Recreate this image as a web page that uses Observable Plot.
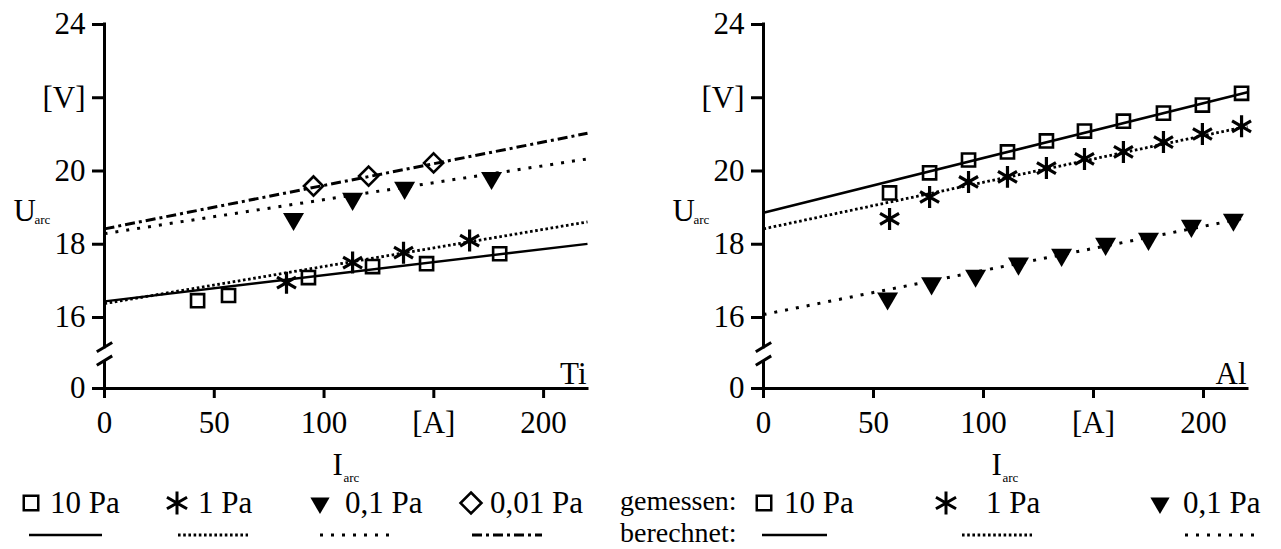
<!DOCTYPE html>
<html><head><meta charset="utf-8">
<script src="https://cdn.jsdelivr.net/npm/d3@7"></script>
<script src="https://cdn.jsdelivr.net/npm/@observablehq/plot@0.6"></script>
<style>
body{margin:0;background:#fff;}
#wrap{position:relative;width:1281px;height:549px;overflow:hidden;background:#fff;}
#wrap > svg{position:absolute;}
</style></head><body><div id="wrap"></div>
<script>
// ---------- axes ----------
const xTicks = [0, 50, 100, 150, 200];
const xTickLabels = ["0", "50", "100", "[A]", "200"];
const yTicks = [0, 16, 18, 20, 22, 24];
const yTickLabels = ["0", "16", "18", "20", "[V]", "24"];
const xDomain = [0, 220];
const yBreakAt = 15;                  // values below this are compressed (broken axis)
const yBreakFactor = 0.0626;          // compression of the 0..15 part
const yMax = 24;
const axisGap = [12.2, 15.19];        // where the y axis line is interrupted

// ---------- Ti (left) measured ----------
const tiSquareX = [42.4, 56.5, 92.9, 122.1, 146.7, 180.0];
const tiSquareY = [16.46, 16.60, 17.09, 17.39, 17.47, 17.74];
const tiStarX = [82.9, 113.0, 136.2, 166.3];
const tiStarY = [16.95, 17.50, 17.77, 18.10];
const tiTriX = [86.1, 113.0, 136.7, 176.3];
const tiTriY = [18.69, 19.24, 19.54, 19.81];
const tiDiaX = [95.2, 120.3, 149.9];
const tiDiaY = [19.59, 19.86, 20.22];
// ---------- Ti computed lines (end points) ----------
const lineX = [0, 220];
const tiLine10 = [16.44, 18.01];
const tiLine1 = [16.38, 18.61];
const tiLine01 = [18.29, 20.33];
const tiLine001 = [18.42, 21.03];

// ---------- Al (right) measured ----------
const alSquareX = [57.3, 75.5, 93.2, 110.9, 128.6, 145.9, 163.6, 181.8, 199.5, 217.3];
const alSquareY = [19.40, 19.95, 20.30, 20.52, 20.82, 21.09, 21.36, 21.58, 21.80, 22.12];
const alStarX = [57.3, 75.5, 93.2, 110.9, 128.6, 145.9, 163.6, 181.8, 199.5, 217.3];
const alStarY = [18.69, 19.29, 19.70, 19.84, 20.08, 20.33, 20.52, 20.79, 21.01, 21.22];
const alTriX = [56.4, 76.4, 96.4, 115.9, 135.5, 155.5, 175.0, 194.5, 213.6];
const alTriY = [16.52, 16.93, 17.14, 17.47, 17.71, 18.01, 18.15, 18.50, 18.67];
// ---------- Al computed lines ----------
const alLine10 = [18.86, 22.15];
const alLine1 = [18.42, 21.22];
const alLine01 = [16.08, 18.73];

const pressures = ["10 Pa", "1 Pa", "0,1 Pa", "0,01 Pa"];

// ---------- styles ----------
const markerStyle = {
  "10 Pa":   {symbol: "square", r: 7.4, fill: "none", stroke: "black", strokeWidth: 2.6},
  "1 Pa":    {symbol: "asterisk", r: 10.4, fill: "none", stroke: "black", strokeWidth: 3.2},
  "0,1 Pa":  {symbol: "triangle", r: 7.8, fill: "black", stroke: "none", rotate: 180},
  "0,01 Pa": {symbol: "diamond2", r: 8.6, fill: "none", stroke: "black", strokeWidth: 2.6}
};
const lineStyle = {
  "10 Pa":   {strokeWidth: 2.5, strokeDasharray: null},
  "1 Pa":    {strokeWidth: 2.8, strokeDasharray: "2.6 2.6"},
  "0,1 Pa":  {strokeWidth: 3, strokeDasharray: "3 8"},
  "0,01 Pa": {strokeWidth: 3, strokeDasharray: "10 4 3 4"}
};

const breakSlash = {
  draw(ctx, size) {
    const r = Math.sqrt(size / Math.PI);
    const c = Math.cos(Math.PI * 31 / 180), s = Math.sin(Math.PI * 31 / 180);
    ctx.moveTo(-r * c, r * s);
    ctx.lineTo(r * c, -r * s);
  }
};
const breakFn = v => v >= yBreakAt ? v : yBreakAt - (yBreakAt - v) * yBreakFactor;

const H = 490, TOP = 24, ZERO = 388;
const FONT = 31;
const FAMILY = "'Liberation Serif', 'Times New Roman', serif";

function pts(xs, ys, name) { return xs.map((x, i) => ({x, y: ys[i], p: name})); }

function panel({width, marginRight, measured, lines, material}) {
  const marks = [];
  // axis lines
  marks.push(Plot.ruleY([0], {x1: 0, x2: 220, strokeWidth: 3, strokeLinecap: "square"}));
  marks.push(Plot.ruleX([0], {y1: 0, y2: axisGap[0], strokeWidth: 3}));
  marks.push(Plot.ruleX([0], {y1: axisGap[1], y2: yMax, strokeWidth: 3, strokeLinecap: "square"}));
  marks.push(Plot.dot(axisGap, {x: 0, y: d => d, symbol: breakSlash, r: 9, stroke: "black", fill: "none", strokeWidth: 3}));
  marks.push(Plot.axisX(xTicks, {label: null, tickSize: 10, tickPadding: 12, strokeWidth: 3, fontSize: FONT,
    tickFormat: d => xTickLabels[xTicks.indexOf(d)]}));
  marks.push(Plot.axisY(yTicks, {label: null, tickSize: 12, tickPadding: 7, strokeWidth: 3, fontSize: FONT,
    tickFormat: d => yTickLabels[yTicks.indexOf(d)]}));
  // computed lines
  for (const [name, ys] of lines) {
    const ls = lineStyle[name];
    marks.push(Plot.line(pts(lineX, ys, name), {x: "x", y: "y", stroke: "black", strokeLinecap: "butt",
      strokeWidth: ls.strokeWidth, strokeDasharray: ls.strokeDasharray}));
  }
  // measured points
  for (const [name, xs, ys] of measured) {
    const ms = markerStyle[name];
    marks.push(Plot.dot(pts(xs, ys, name), {x: "x", y: "y", ...ms}));
  }
  // labels
  marks.push(Plot.text([material], {frameAnchor: "bottom-right", textAnchor: "end", lineAnchor: "bottom", dx: -1, dy: -5, fontSize: FONT, text: d => d}));
  marks.push(Plot.text(["U"], {frameAnchor: "top-left", textAnchor: "start", lineAnchor: "bottom", dx: -91, dy: 196, fontSize: FONT, text: d => d}));
  marks.push(Plot.text(["arc"], {frameAnchor: "top-left", textAnchor: "start", lineAnchor: "bottom", dx: -70, dy: 199, fontSize: 13, text: d => d}));
  marks.push(Plot.text(["I"], {frameAnchor: "bottom-left", textAnchor: "start", lineAnchor: "bottom", dx: 228, dy: 86, fontSize: FONT, text: d => d}));
  marks.push(Plot.text(["arc"], {frameAnchor: "bottom-left", textAnchor: "start", lineAnchor: "bottom", dx: 239, dy: 93, fontSize: 13, text: d => d}));
  return Plot.plot({
    width, height: H, marginLeft: 104, marginRight, marginTop: TOP, marginBottom: H - ZERO,
    style: {fontFamily: FAMILY, fontSize: FONT + "px", background: "transparent", color: "black", overflow: "visible"},
    x: {domain: xDomain},
    y: {transform: breakFn, domain: [breakFn(0), yMax]},
    marks
  });
}

const wrap = document.getElementById("wrap");
const left = panel({
  width: 640, marginRight: 53, material: "Ti",
  measured: [["10 Pa", tiSquareX, tiSquareY], ["1 Pa", tiStarX, tiStarY], ["0,1 Pa", tiTriX, tiTriY], ["0,01 Pa", tiDiaX, tiDiaY]],
  lines: [["10 Pa", tiLine10], ["1 Pa", tiLine1], ["0,1 Pa", tiLine01], ["0,01 Pa", tiLine001]]
});
left.style.left = "0px"; left.style.top = "0px";
wrap.appendChild(left);
const right = panel({
  width: 622, marginRight: 34, material: "Al",
  measured: [["10 Pa", alSquareX, alSquareY], ["1 Pa", alStarX, alStarY], ["0,1 Pa", alTriX, alTriY]],
  lines: [["10 Pa", alLine10], ["1 Pa", alLine1], ["0,1 Pa", alLine01]]
});
right.style.left = "659px"; right.style.top = "0px";
wrap.appendChild(right);

// ---------- legends ----------
const legendSymbols = {"10 Pa": [d3.symbolSquare, 210, false, 0], "1 Pa": [d3.symbolAsterisk, 380, false, 0],
  "0,1 Pa": [d3.symbolTriangle, 160, true, 180], "0,01 Pa": [d3.symbolDiamond2, 281, false, 0]};
const lg = d3.create("svg").attr("width", 1281).attr("height", 549).style("left", "0px").style("top", "0px")
  .style("font-family", FAMILY).style("font-size", FONT + "px");
function legendMarker(name, cx, cy) {
  const [type, size, filled, rot] = legendSymbols[name];
  lg.append("path").attr("d", d3.symbol(type, size)())
    .attr("transform", `translate(${cx},${cy}) rotate(${rot})`)
    .attr("fill", filled ? "black" : "none").attr("stroke", filled ? "none" : "black")
    .attr("stroke-width", name === "1 Pa" ? 3 : 2.5);
}
function legendLine(name, x1, x2, y) {
  const ls = lineStyle[name];
  lg.append("line").attr("x1", x1).attr("x2", x2).attr("y1", y).attr("y2", y)
    .attr("stroke", "black").attr("stroke-width", ls.strokeWidth)
    .attr("stroke-dasharray", ls.strokeDasharray);
}
function legendText(t, x, y, size) {
  const el = lg.append("text").attr("x", x).attr("y", y).text(t);
  if (size) el.style("font-size", size + "px");
}

// left legend
const leftLegend = [[31, 50, 29, 102], [177, 198, 178, 248], [320, 345, 320, 390], [471, 490, 472, 542]];
pressures.forEach((p, i) => {
  const [mx, tx, l1, l2] = leftLegend[i];
  legendMarker(p, mx, 503);
  legendText(p, tx, 513);
  legendLine(p, l1, l2, 535);
});
// right legend
legendText("gemessen:", 620, 510, 28);
legendText("berechnet:", 620, 542, 28);
const rightLegend = [[764, 784, 762, 827], [946, 986, 962, 1032], [1160, 1183, 1185, 1255]];
pressures.slice(0, 3).forEach((p, i) => {
  const [mx, tx, l1, l2] = rightLegend[i];
  legendMarker(p, mx, 503);
  legendText(p, tx, 513);
  legendLine(p, l1, l2, 535);
});
wrap.appendChild(lg.node());
</script></body></html>
